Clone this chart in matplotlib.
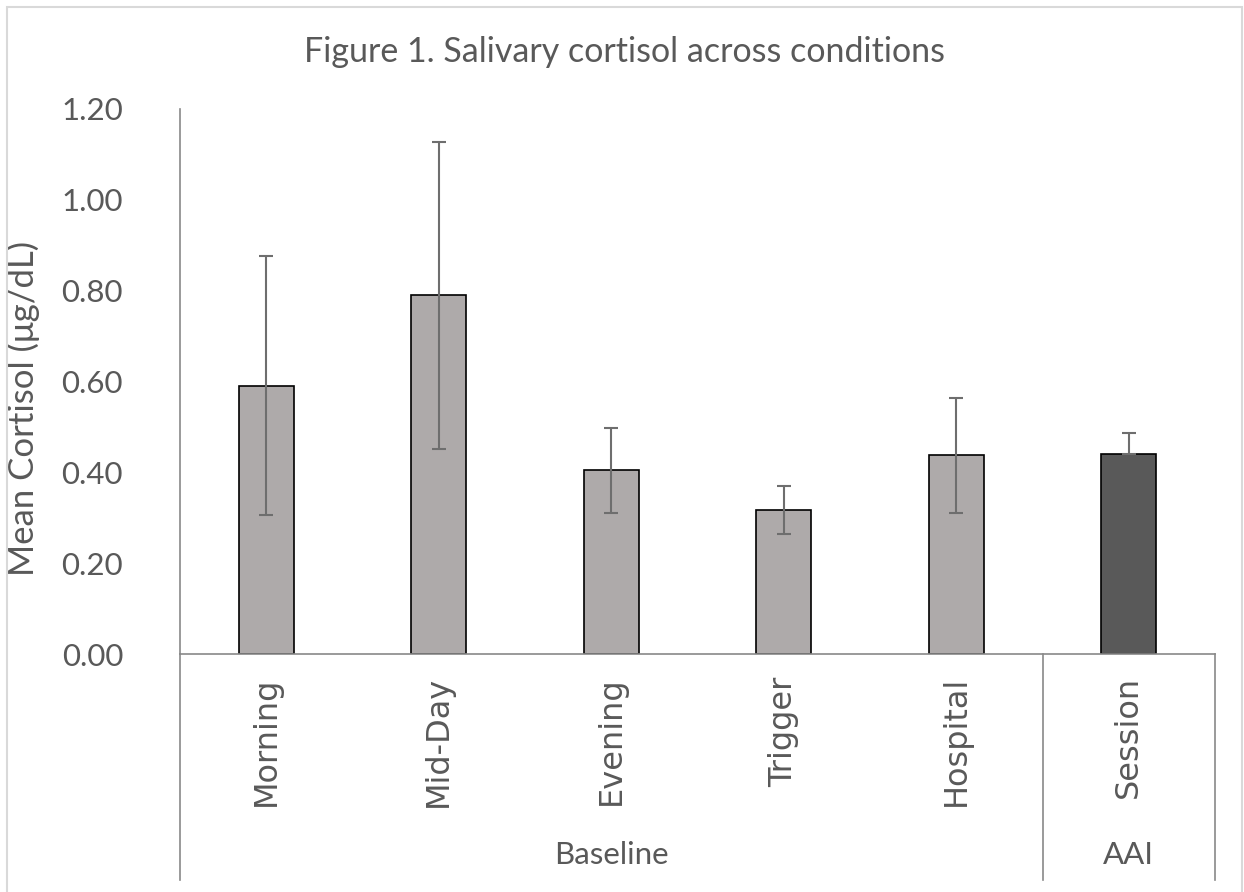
import matplotlib
matplotlib.use("Agg")
import matplotlib.pyplot as plt
from matplotlib.patches import Rectangle

categories = ["Morning", "Mid-Day", "Evening", "Trigger", "Hospital", "Session"]
groups = ["Baseline", "AAI"]
group_spans = [(0, 4), (5, 5)]
means = [0.590, 0.789, 0.404, 0.317, 0.437, 0.439]
err_lower = [0.285, 0.337, 0.093, 0.052, 0.127, 0.0]
err_upper = [0.285, 0.337, 0.093, 0.052, 0.127, 0.047]
bar_colors = ["#AEAAAA", "#AEAAAA", "#AEAAAA", "#AEAAAA", "#AEAAAA", "#595959"]
yticks = [0.0, 0.2, 0.4, 0.6, 0.8, 1.0, 1.2]

W, H = 1244, 892
fig = plt.figure(figsize=(W / 100, H / 100), dpi=100)
fig.patch.set_facecolor("white")

# outer chart border
fig.patches.append(Rectangle((7 / W, -0.02), (1242 - 7) / W, (H - 7) / H + 0.02,
                             transform=fig.transFigure, fill=False,
                             edgecolor="#D9D9D9", linewidth=1.5))

left, right, top, bottom = 180, 1215, 108.5, 654
ax = fig.add_axes([left / W, (H - bottom) / H, (right - left) / W, (bottom - top) / H])

txt = "#595959"
axis_col = "#898989"
main_font = "Lato"

x = list(range(len(categories)))
ax.bar(x, means, width=0.32, color=bar_colors, edgecolor="black", linewidth=1.2, zorder=2)
ax.errorbar(x, means, yerr=[err_lower, err_upper], fmt="none", ecolor="#6E6E6E",
            elinewidth=1.5, capsize=4.8, capthick=1.5, zorder=3)

ax.set_xlim(-0.5, len(categories) - 0.5)
ax.set_ylim(0, 1.2)
ax.set_yticks(yticks)
ax.set_yticklabels([f"{v:.2f}" for v in yticks], fontsize=22.5, color=txt, family=main_font)
ax.tick_params(axis="y", length=0, pad=41)

ax.set_xticks(x)
ax.set_xticklabels(categories, rotation=90, fontsize=23, color=txt, family="DejaVu Sans")
ax.tick_params(axis="x", length=0, pad=16)

for s in ["top", "right"]:
    ax.spines[s].set_visible(False)
for s in ["left", "bottom"]:
    ax.spines[s].set_color(axis_col)
    ax.spines[s].set_linewidth(1.2)

ax.set_ylabel("Mean Cortisol (μg/dL)", fontsize=25, color=txt, family=main_font)
ax.yaxis.set_label_coords((40 - left) / (right - left), (bottom - 408) / (bottom - top))

# multi-level category separators
trans = ax.get_xaxis_transform()
y_low = (bottom - 880) / (bottom - top)
seps = [-0.5] + [span[1] + 0.5 for span in group_spans]
for sx in seps:
    ax.plot([sx, sx], [0, y_low], transform=trans, color=axis_col, lw=1.2, clip_on=False)

y_grp = (bottom - 855) / (bottom - top)
for name, (a, b) in zip(groups, group_spans):
    ax.text((a + b) / 2, y_grp, name, transform=trans, ha="center", va="center",
            fontsize=22.5, color=txt, family=main_font)

fig.text(625 / W, 1 - 52 / H, "Figure 1. Salivary cortisol across conditions",
         ha="center", va="center", fontsize=24.5, color=txt, family=main_font)

fig.savefig("out.png", dpi=100, facecolor="white")
